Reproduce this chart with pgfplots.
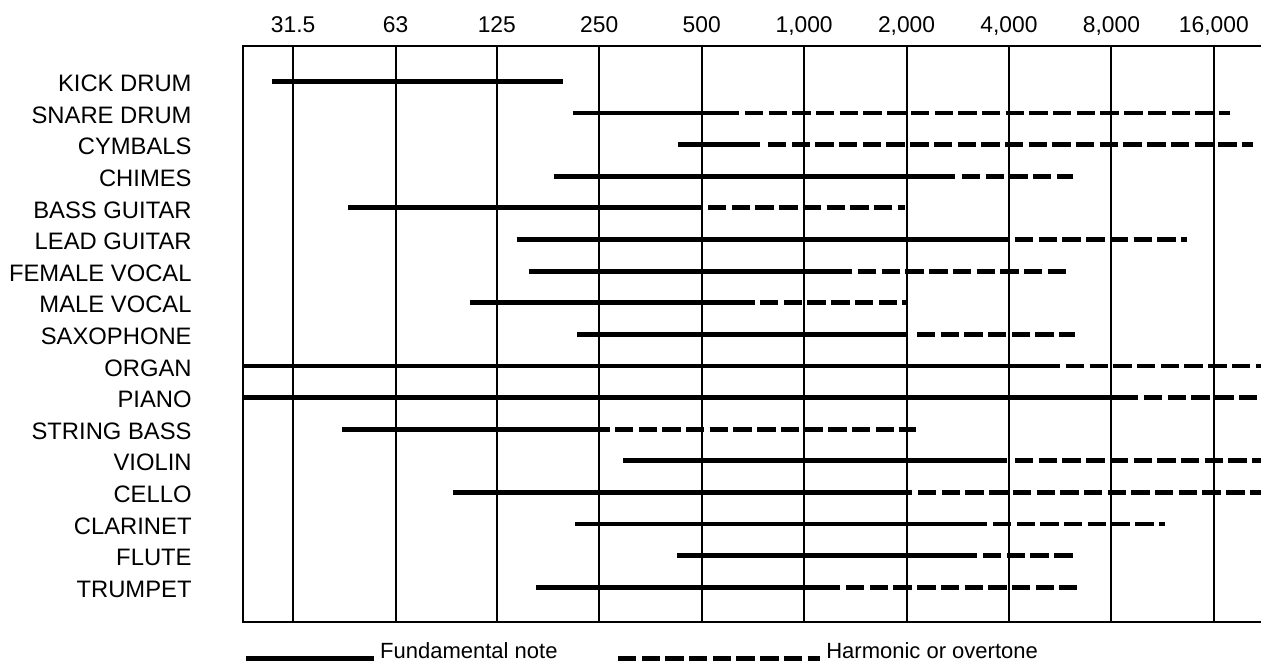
\documentclass[border=0pt]{standalone}
\usepackage{fontspec}
\setmainfont{Liberation Sans}
\usepackage{pgfplots}
\pgfplotsset{compat=1.18}
\begin{document}
\begin{tikzpicture}
\begin{axis}[
  scale only axis,
  width=523.5pt, height=288pt,
  xmode=log, log basis x=2,
  xmin=22.44, xmax=26787,
  ymin=-1.104, ymax=17.123,
  axis line style={line width=1.1pt},
  xtick={31.5,63,125,250,500,1000,2000,4000,8000,16000},
  xticklabels={31.5,63,125,250,500,{1,000},{2,000},{4,000},{8,000},{16,000}},
  xticklabel pos=upper,
  xmajorgrids, major grid style={black, line width=1pt},
  ytick={0,...,16},
  yticklabels={TRUMPET,FLUTE,CLARINET,CELLO,VIOLIN,STRING BASS,PIANO,ORGAN,SAXOPHONE,MALE VOCAL,FEMALE VOCAL,LEAD GUITAR,BASS GUITAR,CHIMES,CYMBALS,SNARE DRUM,KICK DRUM},
  major tick length=0pt, minor tick length=0pt,
  tick style={draw=none},
  xticklabel style={font=\fontsize{11.4}{13}\selectfont, anchor=base, inner sep=0pt, yshift=7pt},
  yticklabel style={font=\fontsize{11.9}{13}\selectfont, anchor=east, inner sep=0pt, xshift=-25.5pt, yshift=-1pt},
  legend columns=2,
  legend style={at={(0,0)}, anchor=north west, yshift=-8pt, draw=none, fill=none, inner sep=0pt,
    font=\fontsize{11}{13}\selectfont,
    /tikz/every even column/.append style={column sep=27pt}},
  sol/.style={black, line width=2.4pt, forget plot},
  dsh/.style={black, line width=2.4pt, dash pattern=on 9.2pt off 2.65pt, forget plot},
]
\addlegendimage{legend image code/.code={\draw[line width=2.4pt] (0pt,-3.5pt) -- (64pt,-3.5pt);}}
\addlegendentry{Fundamental note}
\addlegendimage{legend image code/.code={\draw[line width=2.4pt, dash pattern=on 9.2pt off 2.65pt] (0pt,-3.5pt) -- (101pt,-3.5pt);}}
\addlegendentry{Harmonic or overtone}
% KICK DRUM
\addplot[sol] coordinates {(27.3,16) (195,16)};
% SNARE DRUM
\addplot[sol] coordinates {(209,15) (644,15)};
\addplot[dsh] coordinates {(670,15) (17845,15)};
% CYMBALS
\addplot[sol] coordinates {(426,14) (742,14)};
\addplot[dsh] coordinates {(783,14) (20850,14)};
% CHIMES
\addplot[sol] coordinates {(184,13) (2776,13)};
\addplot[dsh] coordinates {(2910,13) (6167,13)};
% BASS GUITAR
\addplot[sol] coordinates {(45.7,12) (498,12)};
\addplot[dsh] coordinates {(522,12) (1979,12)};
% LEAD GUITAR
\addplot[sol] coordinates {(143,11) (3973,11)};
\addplot[dsh] coordinates {(4166,11) (13339,11)};
% FEMALE VOCAL
\addplot[sol] coordinates {(155,10) (1383,10)};
\addplot[dsh] coordinates {(1440,10) (5962,10)};
% MALE VOCAL
\addplot[sol] coordinates {(104,9) (717,9)};
\addplot[dsh] coordinates {(742,9) (2006,9)};
% SAXOPHONE
\addplot[sol] coordinates {(215,8) (2019,8)};
\addplot[dsh] coordinates {(2146,8) (6251,8)};
% ORGAN
\addplot[sol] coordinates {(20,7) (5649,7)};
\addplot[dsh] coordinates {(5882,7) (30000,7)};
% PIANO
\addplot[sol] coordinates {(20,6) (9576,6)};
\addplot[dsh] coordinates {(9973,6) (30000,6)};
% STRING BASS
\addplot[sol] coordinates {(43.9,5) (269,5)};
\addplot[dsh] coordinates {(278,5) (2132,5)};
% VIOLIN
\addplot[sol] coordinates {(294,4) (3946,4)};
\addplot[dsh] coordinates {(4166,4) (30000,4)};
% CELLO
\addplot[sol] coordinates {(92.9,3) (2075,3)};
\addplot[dsh] coordinates {(2161,3) (30000,3)};
% CLARINET
\addplot[sol] coordinates {(212,2) (3447,2)};
\addplot[dsh] coordinates {(3589,2) (11493,2)};
% FLUTE
\addplot[sol] coordinates {(423,1) (3221,1)};
\addplot[dsh] coordinates {(3355,1) (6167,1)};
% TRUMPET
\addplot[sol] coordinates {(163,0) (1275,0)};
\addplot[dsh] coordinates {(1328,0) (6337,0)};
\end{axis}
\pgfresetboundingbox
\useasboundingbox (-121.5pt,-19pt) rectangle (509pt,311pt);
\end{tikzpicture}
\end{document}
